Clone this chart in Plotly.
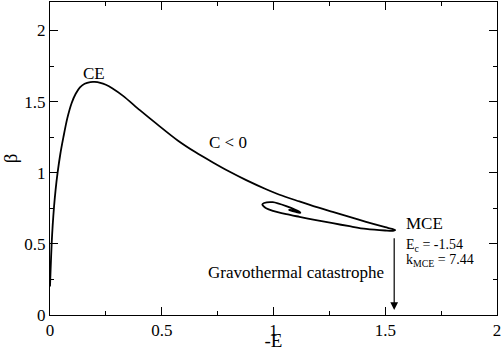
import plotly.graph_objects as go

neg_E = [0.0, 0.003, 0.0074, 0.012, 0.018, 0.025, 0.034, 0.046, 0.06, 0.077, 0.097, 0.115,
         0.134, 0.155, 0.18, 0.2, 0.225, 0.25, 0.28, 0.327, 0.402, 0.476, 0.573, 0.65, 0.729,
         0.8, 0.878, 0.967, 1.027, 1.116, 1.19, 1.265, 1.34, 1.414, 1.5, 1.53, 1.545,
         1.535, 1.5, 1.414, 1.34, 1.265, 1.19, 1.116, 1.057, 0.997, 0.967, 0.955, 0.95,
         0.958, 0.997, 1.057, 1.116, 1.12, 1.10, 1.07, 1.08, 1.105, 1.09]
beta = [0.2, 0.33, 0.5, 0.63, 0.76, 0.88, 1.0, 1.13, 1.25, 1.38, 1.49, 1.555,
        1.60, 1.625, 1.637, 1.638, 1.632, 1.618, 1.592, 1.54, 1.44, 1.345, 1.225, 1.145, 1.072,
        1.01, 0.948, 0.884, 0.845, 0.798, 0.76, 0.725, 0.69, 0.655, 0.617, 0.605, 0.597,
        0.592, 0.594, 0.605, 0.624, 0.645, 0.667, 0.69, 0.709, 0.732, 0.75, 0.765, 0.777,
        0.787, 0.793, 0.765, 0.725, 0.718, 0.724, 0.738, 0.737, 0.727, 0.732]

x_ticks = [0, 0.5, 1, 1.5, 2]
y_ticks = [0, 0.5, 1, 1.5, 2]

E_c = -1.54
k_MCE = 7.44

FONT = "Liberation Serif"

fig = go.Figure()
fig.add_trace(go.Scatter(x=neg_E, y=beta, mode="lines",
                         line=dict(color="black", width=1.8, shape="spline", smoothing=0.8),
                         showlegend=False, hoverinfo="skip"))

axis_common = dict(showgrid=False, zeroline=False, showline=True, linecolor="black",
                   linewidth=1, mirror="ticks", ticks="inside", ticklen=8, tickwidth=1,
                   tickcolor="black", tickfont=dict(family=FONT, size=17, color="black"),
                   automargin=False,
                   minor=dict(ticks="inside", ticklen=4, tickwidth=1, tickcolor="black", dtick=0.25))

fig.update_xaxes(range=[0, 2], tickvals=x_ticks, ticktext=[f"{v:g}" for v in x_ticks],
                 title=dict(text="-E", font=dict(family=FONT, size=19, color="black"), standoff=0),
                 **axis_common)
fig.update_yaxes(range=[0, 2.2], tickvals=y_ticks, ticktext=[f"{v:g}" for v in y_ticks],
                 title=dict(text="β", font=dict(family=FONT, size=19, color="black"), standoff=4),
                 **axis_common)

tf = dict(family=FONT, size=17, color="black")
sf = dict(family=FONT, size=14, color="black")
fig.add_annotation(x=0.196, y=1.70, text="CE", showarrow=False, font=tf)
fig.add_annotation(x=0.795, y=1.21, text="C < 0", showarrow=False, font=tf)
fig.add_annotation(x=1.585, y=0.645, text="MCE", showarrow=False, font=tf, xanchor="left")
fig.add_annotation(x=1.585, y=0.49, text=f"E<sub>c</sub> = {E_c:.2f}", showarrow=False,
                   font=sf, xanchor="left")
fig.add_annotation(x=1.585, y=0.385, text=f"k<sub>MCE</sub> = {k_MCE:.2f}", showarrow=False,
                   font=sf, xanchor="left")
fig.add_annotation(x=1.10, y=0.30, text="Gravothermal catastrophe", showarrow=False, font=tf)
fig.add_annotation(x=-E_c, y=0.035, ax=-E_c, ay=0.55, axref="x", ayref="y", xref="x", yref="y",
                   text="", showarrow=True, arrowhead=2, arrowsize=1.3, arrowwidth=1.2,
                   arrowcolor="black")

fig.update_layout(width=503, height=351, margin=dict(l=50, r=6, t=2, b=36),
                  plot_bgcolor="white", paper_bgcolor="white")

fig.write_html("out.html", config={"displayModeBar": False},
               post_script="document.body.style.margin='0';document.body.style.overflow='hidden';")
